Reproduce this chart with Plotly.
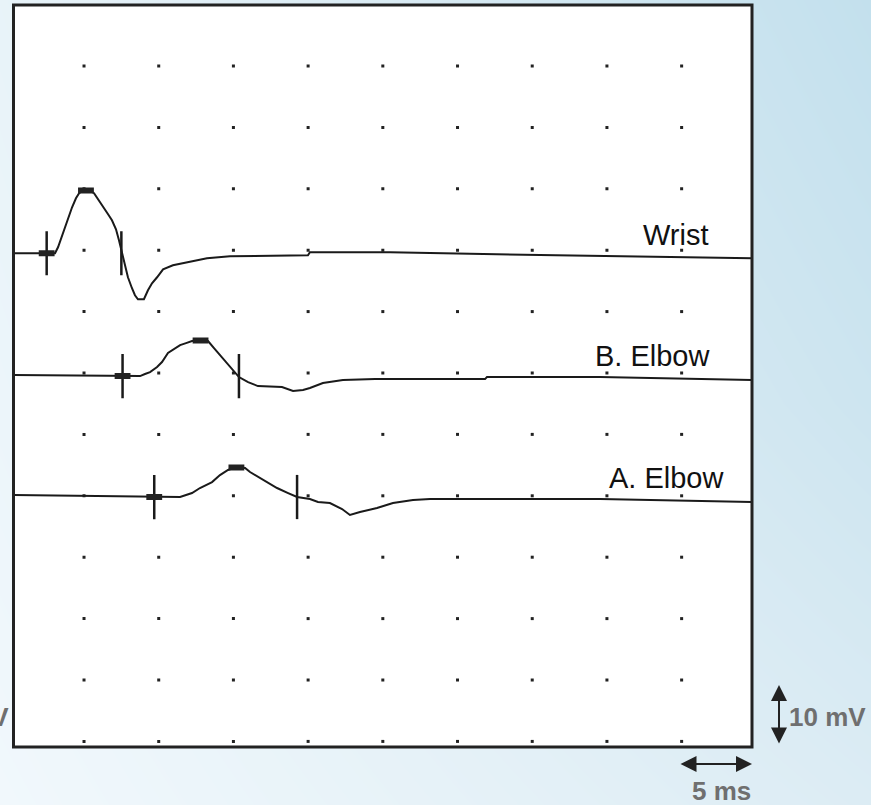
import plotly.graph_objects as go

W, H = 871, 805

# ---------------- data (time in ms, amplitude in mV relative to each baseline) -------------
wrist_t = [0.28, 3.06, 3.26, 3.53, 3.86, 4.20, 4.46, 4.67, 5.00, 5.33, 5.67, 6.00, 6.27,
           6.61, 6.87, 7.14, 7.34, 7.54, 7.74, 7.94, 8.21, 8.41, 8.61, 9.01, 9.28, 9.55,
           9.89, 10.29, 10.95, 11.89, 13.23, 14.77, 19.99, 20.12, 25.48, 36.59, 49.71]
wrist_v = [0, 0, 0.98, 2.93, 5.37, 7.49, 8.96, 9.77, 10.26, 10.26, 9.77, 8.63, 7.49,
           6.35, 5.37, 3.91, 2.12, 0, -2.12, -3.91, -5.70, -6.84, -7.49, -7.49, -6.03, -4.89,
           -3.91, -2.61, -1.95, -1.47, -0.81, -0.49, -0.33, 0.16, 0.16, -0.33, -0.81]

belbow_t = [0.28, 8.75, 9.08, 9.42, 9.89, 10.22, 10.62, 11.02, 11.43, 11.83, 12.23, 12.76,
            13.30, 13.70, 14.10, 14.44, 14.77, 15.11, 15.37, 15.98, 16.64, 18.25, 18.99,
            19.66, 20.12, 20.99, 22.33, 24.48, 31.84, 31.97, 39.54, 49.71]
belbow_v = [0.16, 0, 0.33, 0.65, 1.47, 2.28, 3.75, 4.40, 5.05, 5.37, 5.70, 5.86,
            5.70, 4.56, 3.42, 2.44, 1.47, 0.49, -0.16, -0.98, -1.63, -1.79, -2.44,
            -2.28, -1.95, -1.14, -0.65, -0.49, -0.49, -0.16, -0.16, -0.65]

aelbow_t = [0.28, 9.42, 11.43, 11.83, 12.23, 12.76, 13.57, 14.10, 14.64, 15.17, 15.78,
            16.11, 16.98, 17.92, 18.66, 19.26, 20.12, 20.66, 21.46, 22.27, 22.80, 23.47,
            24.61, 25.68, 27.02, 28.16, 39.54, 49.71]
aelbow_v = [0.33, 0, 0, 0.33, 0.65, 1.47, 2.44, 3.58, 4.40, 4.89, 4.72,
            4.07, 2.77, 1.47, 0.65, 0, -0.33, -0.81, -0.98, -1.95, -2.93, -2.44,
            -1.79, -0.98, -0.49, -0.33, -0.33, -0.81]

labels = ["Wrist", "B. Elbow", "A. Elbow"]
baselines_mv = [79.5, 59.5, 39.8]          # display baseline of each recording
onset_ms = [2.5, 7.58, 9.7]
peak_ms = [5.13, 12.8, 15.2]
peak_mv = [10.2, 5.8, 4.8]
end_ms = [7.5, 15.37, 19.26]

grid_x = [5, 10, 15, 20, 25, 30, 35, 40, 45]            # 5 ms / division
grid_y = [0, 10, 20, 30, 40, 50, 60, 70, 80, 90, 100, 110]  # 10 mV / division

x_range = [0.28, 49.71]
y_range = [-0.91, 119.93]

# ---------------- helpers -------------------------------------------------------------------
def px(x):
    return x / W


def py(y):
    return 1 - y / H


INK = "#1a1a1a"
FONT = "Liberation Sans, Arial, sans-serif"

fig = go.Figure()

# background gradient (full paper)
fig.add_trace(go.Heatmap(
    x=[0, 0.5, 1], y=[0, 0.5, 1],
    z=[[0.00, 0.25, 0.50],
       [0.12, 0.45, 0.80],
       [0.22, 0.60, 1.00]],
    zsmooth="best", showscale=False, hoverinfo="skip",
    colorscale=[[0, "#f1f8fc"], [0.5, "#dcecf4"], [1, "#c3e0ed"]],
    xaxis="x", yaxis="y"))

# grid dots
gx, gy = [], []
for yy in grid_y:
    for xx in grid_x:
        gx.append(xx)
        gy.append(yy)
fig.add_trace(go.Scatter(x=gx, y=gy, mode="markers", xaxis="x2", yaxis="y2",
                         marker=dict(symbol="square", size=3, color="#222222"),
                         hoverinfo="skip", showlegend=False))

series = [(wrist_t, wrist_v), (belbow_t, belbow_v), (aelbow_t, aelbow_v)]
tick_half = 3.6
bar_half = 0.53
for i, (t, v) in enumerate(series):
    b = baselines_mv[i]
    fig.add_trace(go.Scatter(x=t, y=[b + val for val in v], mode="lines",
                             xaxis="x2", yaxis="y2",
                             line=dict(color=INK, width=2, shape="linear"),
                             hoverinfo="skip", showlegend=False))
    # latency ticks (onset and end)
    tx, ty = [], []
    for lat in (onset_ms[i], end_ms[i]):
        tx += [lat, lat, None]
        ty += [b - tick_half, b + tick_half, None]
    fig.add_trace(go.Scatter(x=tx, y=ty, mode="lines", xaxis="x2", yaxis="y2",
                             line=dict(color=INK, width=2.5),
                             hoverinfo="skip", showlegend=False))
    # onset / peak bars
    bx, by = [], []
    for lat, amp in ((onset_ms[i], 0), (peak_ms[i], peak_mv[i])):
        bx += [lat - bar_half, lat + bar_half, None]
        by += [b + amp, b + amp, None]
    fig.add_trace(go.Scatter(x=bx, y=by, mode="lines", xaxis="x2", yaxis="y2",
                             line=dict(color="#222222", width=6),
                             hoverinfo="skip", showlegend=False))

# ---------------- layout ----------------------------------------------------------------------
left, right, top, bottom = 13.5, 752, 5, 747

annotations = []
label_pos = [(710.5, 235), (713, 356), (726.5, 478)]
for lab, (lx, ly) in zip(labels, label_pos):
    annotations.append(dict(text=lab, xref="paper", yref="paper", x=px(lx), y=py(ly),
                            xanchor="right", yanchor="middle", showarrow=False,
                            font=dict(family=FONT, size=29, color="#111111")))

GREY = "#6f6f6f"
annotations += [
    dict(text="<b>10 mV</b>", xref="paper", yref="paper", x=px(787), y=py(717),
         xanchor="left", yanchor="middle", showarrow=False,
         font=dict(family=FONT, size=26, color=GREY)),
    dict(text="<b>10 mV</b>", xref="paper", yref="paper", x=px(11), y=py(717),
         xanchor="right", yanchor="middle", showarrow=False,
         font=dict(family=FONT, size=26, color=GREY)),
    dict(text="<b>5 ms</b>", xref="paper", yref="paper", x=px(721), y=py(791),
         xanchor="center", yanchor="middle", showarrow=False,
         font=dict(family=FONT, size=26, color=GREY)),
    # scale-bar arrows
    dict(text="", xref="paper", yref="paper", x=px(779), y=py(685), ax=0, ay=60,
         showarrow=True, arrowside="end+start", arrowhead=2, arrowsize=1.6,
         arrowwidth=2, arrowcolor="#222222", standoff=0, startstandoff=0),
    dict(text="", xref="paper", yref="paper", x=px(752), y=py(764), ax=-73, ay=0,
         showarrow=True, arrowside="end+start", arrowhead=2, arrowsize=1.6,
         arrowwidth=2, arrowcolor="#222222", standoff=0, startstandoff=0),
]

shapes = [
    dict(type="rect", xref="x2", yref="y2", x0=x_range[0], x1=x_range[1],
         y0=y_range[0], y1=y_range[1], fillcolor="white", line=dict(width=0),
         layer="below"),
    dict(type="rect", xref="paper", yref="paper", x0=px(left), x1=px(right),
         y0=py(bottom), y1=py(top), line=dict(color="#222222", width=3),
         fillcolor="rgba(0,0,0,0)", layer="above"),
]

fig.update_layout(
    width=W, height=H,
    margin=dict(l=0, r=0, t=0, b=0),
    paper_bgcolor="#e4f1f7", plot_bgcolor="rgba(0,0,0,0)",
    showlegend=False,
    xaxis=dict(domain=[0, 1], range=[0, 1], visible=False, fixedrange=True),
    yaxis=dict(domain=[0, 1], range=[0, 1], visible=False, fixedrange=True),
    xaxis2=dict(domain=[px(left), px(right)], range=x_range, visible=False,
                anchor="y2", fixedrange=True),
    yaxis2=dict(domain=[py(bottom), py(top)], range=y_range, visible=False,
                anchor="x2", fixedrange=True),
    annotations=annotations,
    shapes=shapes,
)

fig.write_html(
    "out.html",
    config={"displayModeBar": False},
    post_script="document.body.style.margin='0';document.body.style.overflow='hidden';",
)
